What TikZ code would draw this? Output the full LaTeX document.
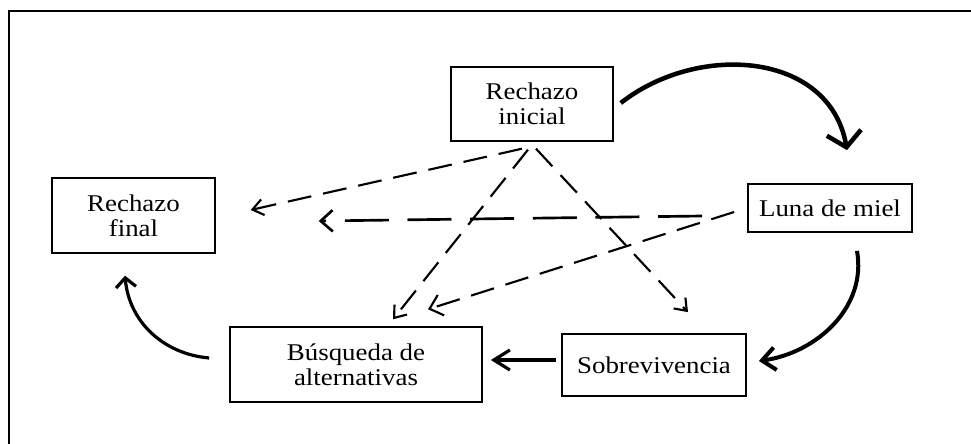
\documentclass[tikz,border=0pt]{standalone}
\usepackage{fontspec}
\setmainfont{Liberation Serif}[FakeStretch=1.12]
\usetikzlibrary{arrows.meta}
\tikzstyle{box} = [draw, line width=1.3pt, align=center, inner sep=2pt,
    font=\fontsize{18}{19}\selectfont]
\tikzstyle{link} = [line width=1.6pt, dash pattern=on 18pt off 9pt]
\tikzstyle{longlink} = [line width=2pt, dash pattern=on 33pt off 14pt]
\tikzstyle{flow} = [line width=2.4pt]
\tikzset{>={Straight Barb[length=8pt,width=12pt]}}

\begin{document}
\begin{tikzpicture}[x=0.75pt,y=0.75pt]
\useasboundingbox (0,0) rectangle (971,443);
\begin{scope}[scale=1]
    %frame
    \clip (0,0) rectangle (971,443);
    \draw[line width=2.2pt] (9,-30) rectangle (1010,432);
    %boxes
    \node[box, minimum width=122pt, minimum height=56pt] (ini) at (532,339) {Rechazo\\inicial};
    \node[box, minimum width=122pt, minimum height=56pt] (fin) at (133.5,227.5) {Rechazo\\final};
    \node[box, minimum width=123pt, minimum height=36pt] (luna) at (830,235) {Luna de miel};
    \node[box, minimum width=189pt, minimum height=56pt] (busq) at (356,78.5) {Búsqueda de\\alternativas};
    \node[box, minimum width=138pt, minimum height=46.5pt] (sobre) at (654,78) {Sobrevivencia};
    %dashed links
    \draw[link, ->] ([shift={(-10,-6.5)}]ini.south) -- ([shift={(35,5.5)}]fin.east);
    \draw[link, ->] ([shift={(-4,-7.5)}]ini.south) -- ([shift={(37,7)}]busq.north);
    \draw[link, ->] ([shift={(4,-6.5)}]ini.south) -- ([shift={(34,21)}]sobre.north);
    \draw[longlink, -{Straight Barb[length=9pt,width=16pt]}] ([shift={(-45,-8)}]luna.west) -- ([shift={(103,-5.5)}]fin.east);
    \draw[link, -{Straight Barb[length=9pt,width=16pt]}] ([shift={(-13,-4)}]luna.west) -- ([shift={(72,17)}]busq.north);
    %cycle
    \draw[flow, line width=3.4pt, -{Straight Barb[length=11pt,width=26pt]}] ([shift={(6.5,1)}]ini.east) to[out=38,in=100,looseness=1.1] ([shift={(17,33)}]luna.north);
    \draw[flow, line width=3pt, -{Straight Barb[length=10pt,width=17pt]}] ([shift={(27,-18)}]luna.south) to[out=-80,in=8] ([shift={(12,4)}]sobre.east);
    \draw[flow, -{Straight Barb[length=12pt,width=15pt]}] ([shift={(-5,5)}]sobre.west) -- ([shift={(8,4.5)}]busq.east);
    \draw[flow, -{Straight Barb[length=7pt,width=15pt]}] ([shift={(-20,6.5)}]busq.west) to[out=175,in=-85] ([shift={(-8.5,-22)}]fin.south);
\end{scope}
\end{tikzpicture}
\end{document}
